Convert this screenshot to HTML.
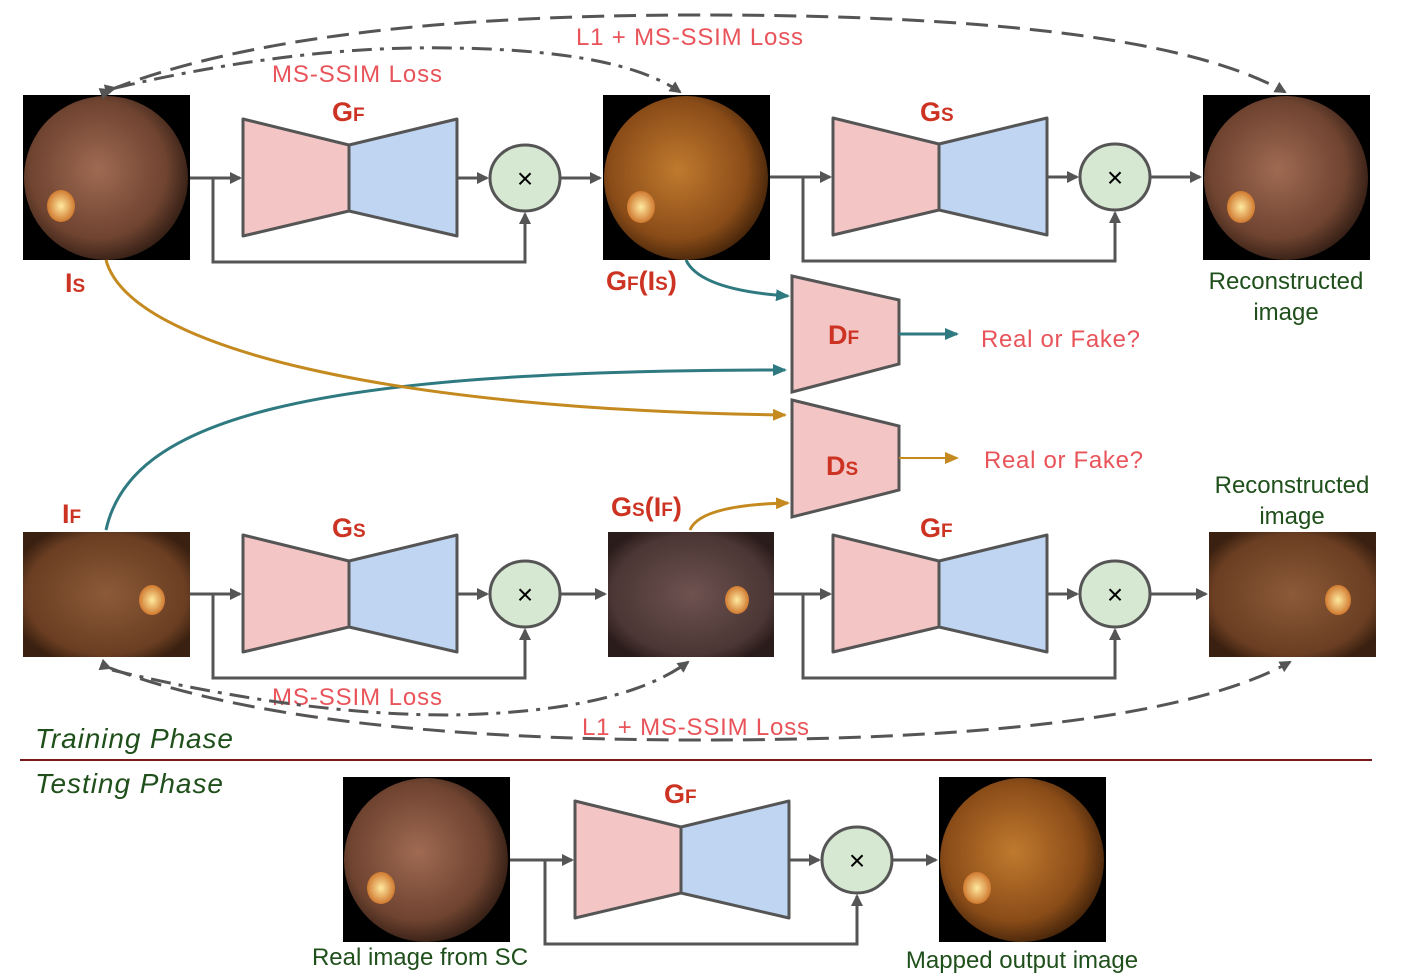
<!DOCTYPE html>
<html><head><meta charset="utf-8"><style>body{margin:0;background:#fff}svg{display:block;font-family:"Liberation Sans",Arial,sans-serif}</style></head><body>
<svg width="1403" height="978" viewBox="0 0 1403 978" xmlns="http://www.w3.org/2000/svg">
<defs>
<marker id="ag" markerWidth="12" markerHeight="12" refX="10" refY="6" orient="auto" markerUnits="userSpaceOnUse"><path d="M0,0 L12,6 L0,12 Z" fill="#555"/></marker>
<marker id="at" markerWidth="14" markerHeight="12" refX="12" refY="6" orient="auto" markerUnits="userSpaceOnUse"><path d="M0,0 L14,6 L0,12 Z" fill="#2e7a80"/></marker>
<marker id="ao" markerWidth="14" markerHeight="12" refX="12" refY="6" orient="auto" markerUnits="userSpaceOnUse"><path d="M0,0 L14,6 L0,12 Z" fill="#c58a1f"/></marker>
<radialGradient id="f1" cx="45%" cy="45%" r="60%"><stop offset="0" stop-color="#a06a52"/><stop offset="0.7" stop-color="#6e4330"/><stop offset="1" stop-color="#2a1810"/></radialGradient>
<radialGradient id="f2" cx="45%" cy="45%" r="60%"><stop offset="0" stop-color="#c07a2e"/><stop offset="0.7" stop-color="#8a4c18"/><stop offset="1" stop-color="#3a1e08"/></radialGradient>
<radialGradient id="f3" cx="50%" cy="50%" r="60%"><stop offset="0" stop-color="#8c5a38"/><stop offset="0.8" stop-color="#6a3e22"/><stop offset="1" stop-color="#3a2010"/></radialGradient>
<radialGradient id="f4" cx="50%" cy="50%" r="60%"><stop offset="0" stop-color="#6e5250"/><stop offset="0.8" stop-color="#4a3634"/><stop offset="1" stop-color="#2a1c1a"/></radialGradient>
<radialGradient id="disc" cx="50%" cy="50%" r="50%"><stop offset="0" stop-color="#ffe9a0"/><stop offset="1" stop-color="#d07a30"/></radialGradient>
<g id="gen">
<polygon points="243,119 349,145 349,211 243,236" fill="#f4c5c5" stroke="#555" stroke-width="3" stroke-linejoin="round"/>
<polygon points="349,145 457,119 457,236 349,211" fill="#bfd5f2" stroke="#555" stroke-width="3" stroke-linejoin="round"/>
<ellipse cx="525" cy="178" rx="35" ry="33" fill="#d6e8d2" stroke="#555" stroke-width="3"/>
<text x="525" y="188" font-size="28" text-anchor="middle" fill="#000">×</text>
<g fill="none" stroke="#555" stroke-width="3">
<line x1="213" y1="178" x2="240" y2="178" marker-end="url(#ag)"/>
<polyline points="213,178 213,262 525,262 525,214" marker-end="url(#ag)"/>
<line x1="457" y1="178" x2="487" y2="178" marker-end="url(#ag)"/>
</g>
</g>
</defs>
<rect width="1403" height="978" fill="#fff"/>
<rect x="23" y="95" width="167" height="165" fill="#000"/><ellipse cx="106" cy="178" rx="82" ry="82" fill="url(#f1)"/><ellipse cx="61" cy="206" rx="14" ry="16" fill="url(#disc)"/>
<rect x="603" y="95" width="167" height="165" fill="#000"/><ellipse cx="686" cy="178" rx="82" ry="82" fill="url(#f2)"/><ellipse cx="641" cy="207" rx="14" ry="16" fill="url(#disc)"/>
<rect x="1203" y="95" width="167" height="165" fill="#000"/><ellipse cx="1286" cy="178" rx="82" ry="82" fill="url(#f1)"/><ellipse cx="1241" cy="207" rx="14" ry="16" fill="url(#disc)"/>
<path d="M23,532 H190 V657 H23 Z" fill="url(#f3)"/><ellipse cx="152" cy="600" rx="13" ry="15" fill="url(#disc)"/>
<rect x="608" y="532" width="166" height="125" fill="url(#f4)"/><ellipse cx="737" cy="600" rx="12" ry="14" fill="url(#disc)"/>
<rect x="1209" y="532" width="167" height="125" fill="url(#f3)"/><ellipse cx="1338" cy="600" rx="13" ry="15" fill="url(#disc)"/>
<rect x="343" y="777" width="167" height="165" fill="#000"/><ellipse cx="426" cy="860" rx="82" ry="82" fill="url(#f1)"/><ellipse cx="381" cy="888" rx="14" ry="16" fill="url(#disc)"/>
<rect x="939" y="777" width="167" height="165" fill="#000"/><ellipse cx="1022" cy="860" rx="82" ry="82" fill="url(#f2)"/><ellipse cx="977" cy="888" rx="14" ry="16" fill="url(#disc)"/>
<use href="#gen"/>
<use href="#gen" x="590" y="-1"/>
<use href="#gen" y="416"/>
<use href="#gen" x="590" y="416"/>
<use href="#gen" x="332" y="682"/>
<g fill="none" stroke="#555" stroke-width="3">
<line x1="190" y1="178" x2="215" y2="178"/>
<line x1="560" y1="178" x2="600" y2="178" marker-end="url(#ag)"/>
<line x1="770" y1="177" x2="805" y2="177"/>
<line x1="1150" y1="177" x2="1200" y2="177" marker-end="url(#ag)"/>
<line x1="190" y1="594" x2="215" y2="594"/>
<line x1="560" y1="594" x2="605" y2="594" marker-end="url(#ag)"/>
<line x1="774" y1="594" x2="805" y2="594"/>
<line x1="1150" y1="594" x2="1206" y2="594" marker-end="url(#ag)"/>
<line x1="510" y1="860" x2="547" y2="860"/>
<line x1="892" y1="860" x2="936" y2="860" marker-end="url(#ag)"/>
</g>
<polygon points="792,276 899,300 899,364 792,392" fill="#f4c5c5" stroke="#555" stroke-width="3"/>
<polygon points="792,400 899,426 899,490 792,517" fill="#f4c5c5" stroke="#555" stroke-width="3"/>
<g font-weight="bold" fill="#cc3322">
<text x="828" y="344" font-size="27">D<tspan font-size="19">F</tspan></text>
<text x="826" y="475" font-size="27">D<tspan font-size="19">S</tspan></text>
<text x="332" y="121" font-size="27">G<tspan font-size="19">F</tspan></text>
<text x="920" y="121" font-size="27">G<tspan font-size="19">S</tspan></text>
<text x="332" y="537" font-size="27">G<tspan font-size="19">S</tspan></text>
<text x="920" y="537" font-size="27">G<tspan font-size="19">F</tspan></text>
<text x="664" y="803" font-size="27">G<tspan font-size="19">F</tspan></text>
<text x="65" y="292" font-size="27">I<tspan font-size="19">S</tspan></text>
<text x="606" y="290" font-size="27">G<tspan font-size="19">F</tspan>(I<tspan font-size="19">S</tspan>)</text>
<text x="62" y="523" font-size="27">I<tspan font-size="19">F</tspan></text>
<text x="611" y="516" font-size="27">G<tspan font-size="19">S</tspan>(I<tspan font-size="19">F</tspan>)</text>
</g>
<line x1="899" y1="334" x2="957" y2="334" stroke="#2e7a80" stroke-width="3" marker-end="url(#at)"/>
<line x1="899" y1="458" x2="957" y2="458" stroke="#c58a1f" stroke-width="2" marker-end="url(#ao)"/>
<g fill="#e8545a" font-size="24">
<text x="981" y="347" textLength="159">Real or Fake?</text>
<text x="984" y="468" textLength="159">Real or Fake?</text>
<text x="576" y="45" textLength="227">L1 + MS-SSIM Loss</text>
<text x="272" y="82" textLength="170">MS-SSIM Loss</text>
<text x="272" y="705" textLength="170">MS-SSIM Loss</text>
<text x="582" y="735" textLength="227">L1 + MS-SSIM Loss</text>
</g>
<g fill="#1f4f1a" font-size="24" text-anchor="middle">
<text x="1286" y="289">Reconstructed</text><text x="1286" y="320">image</text>
<text x="1292" y="493">Reconstructed</text><text x="1292" y="524">image</text>
<text x="420" y="965">Real image from SC</text>
<text x="1022" y="968">Mapped output image</text>
</g>
<g fill="#1f4f1a" font-size="28" font-style="italic">
<text x="35" y="748" textLength="198">Training Phase</text>
<text x="35" y="793" textLength="188">Testing Phase</text>
</g>
<line x1="20" y1="760" x2="1372" y2="760" stroke="#7a1a1a" stroke-width="2"/>
<g fill="none" stroke="#555" stroke-width="3">
<path d="M110,90 Q300,15 700,15 Q1150,15 1285,92" stroke-dasharray="22,10" marker-end="url(#ag)" marker-start="url(#ag)"/>
<path d="M115,88 Q300,45 450,48 Q620,50 680,92" stroke-dasharray="20,8,4,8" marker-end="url(#ag)" marker-start="url(#ag)"/>
<path d="M110,668 Q300,740 700,740 Q1150,740 1290,662" stroke-dasharray="22,10" marker-end="url(#ag)" marker-start="url(#ag)"/>
<path d="M112,670 Q300,715 450,715 Q620,712 688,662" stroke-dasharray="20,8,4,8" marker-end="url(#ag)"/>
</g>
<path d="M686,260 Q700,290 788,296" fill="none" stroke="#2e7a80" stroke-width="3" marker-end="url(#at)"/>
<path d="M106,530 C130,420 300,370 785,370" fill="none" stroke="#2e7a80" stroke-width="3" marker-end="url(#at)"/>
<path d="M106,260 C130,350 400,410 785,415" fill="none" stroke="#c58a1f" stroke-width="3" marker-end="url(#ao)"/>
<path d="M690,530 Q700,505 788,503" fill="none" stroke="#c58a1f" stroke-width="3" marker-end="url(#ao)"/>
</svg>
</body></html>
